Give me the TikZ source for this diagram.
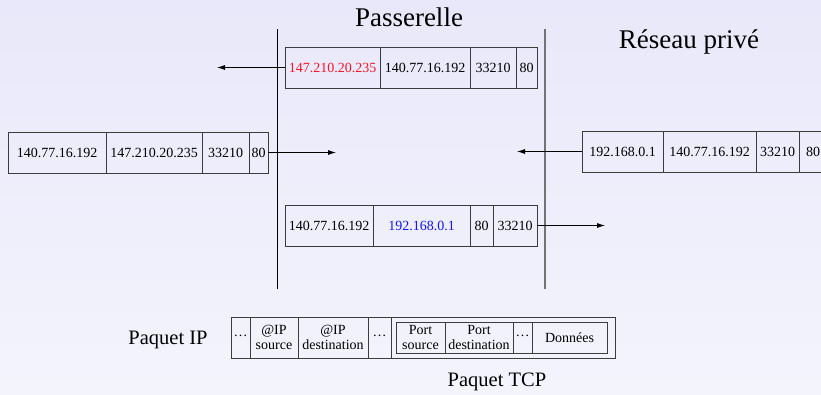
\documentclass[tikz,border=0pt]{standalone}
\usepackage{fontspec}
\setmainfont{Liberation Serif}
\usetikzlibrary{arrows.meta}
\definecolor{bgtop}{RGB}{232,232,250}
\definecolor{bgbot}{RGB}{244,244,253}
\definecolor{boxc}{RGB}{60,60,60}
\definecolor{ipred}{RGB}{250,20,40}
\definecolor{ipblue}{RGB}{20,20,245}
\newcommand\moredots{\raisebox{3pt}{…}}
\tikzset{
  cell/.style={draw=boxc, line width=0.8pt, inner sep=0pt, outer sep=0pt,
    minimum height=41pt, align=center, font=\fontsize{14}{15}\selectfont},
  smallcell/.style={cell, minimum height=31pt},
  arr/.style={line width=0.8pt, -{Latex[length=8pt,width=5pt]}},
  title/.style={font=\fontsize{27}{30}\selectfont, inner sep=0pt},
  caption/.style={font=\fontsize{20.5}{23}\selectfont, inner sep=0pt},
}
\begin{document}
\begin{tikzpicture}[x=1pt, y=-1pt]
  \useasboundingbox (0,0) rectangle (821,394);
  \shade[top color=bgtop, bottom color=bgbot] (0,0) rectangle (821,394);
  \clip (0,0) rectangle (821,394);

  % headings
  \node[title] (pass) at (409,17) {Passerelle};
  \node[title] (prive) at (689,42) {Réseau privé};

  % boundaries of the gateway
  \coordinate (g1top) at (277,29);
  \coordinate (g1bot) at (277,289);
  \coordinate (g2top) at (545,29);
  \coordinate (g2bot) at (545,289);
  \draw[line width=1pt, black] (g1top) -- (g1bot);
  \draw[line width=1.2pt, black!55] (g2top) -- (g2bot);

  % outgoing packet after translation
  \node[cell, minimum width=95pt, text=ipred] (t1) at (332.5,67.5) {147.210.20.235};
  \node[cell, minimum width=90pt] (t2) at (425,67.5) {140.77.16.192};
  \node[cell, minimum width=46pt] (t3) at (493,67.5) {33210};
  \node[cell, minimum width=21pt] (t4) at (526.5,67.5) {80};
  \coordinate (tend) at (217,67.5);
  \draw[arr] (t1.west) -- (tend);

  % incoming reply from outside
  \node[cell, minimum width=98pt] (l1) at (57,152.5) {140.77.16.192};
  \node[cell, minimum width=96pt] (l2) at (154,152.5) {147.210.20.235};
  \node[cell, minimum width=47pt] (l3) at (225.5,152.5) {33210};
  \node[cell, minimum width=19pt] (l4) at (258.5,152.5) {80};
  \coordinate (lend) at (336,152.5);
  \draw[arr] (l4.east) -- (lend);

  % packet leaving the private network
  \node[cell, minimum width=81pt] (r1) at (622.5,151.5) {192.168.0.1};
  \node[cell, minimum width=93pt] (r2) at (709.5,151.5) {140.77.16.192};
  \node[cell, minimum width=43pt] (r3) at (777.5,151.5) {33210};
  \node[cell, minimum width=28pt] (r4) at (813,151.5) {80};
  \coordinate (rend) at (517,151.5);
  \draw[arr] (r1.west) -- (rend);

  % reply forwarded into the private network
  \node[cell, minimum width=88pt] (b1) at (329,225.5) {140.77.16.192};
  \node[cell, minimum width=97pt, text=ipblue] (b2) at (421.5,225.5) {192.168.0.1};
  \node[cell, minimum width=23pt] (b3) at (481.5,225.5) {80};
  \node[cell, minimum width=44pt] (b4) at (515,225.5) {33210};
  \coordinate (bend) at (605,225.5);
  \draw[arr] (b4.east) -- (bend);

  % IP packet layout
  \node[caption] (ipcap) at (168,340) {Paquet IP};
  \node[cell, minimum width=19pt] (p1) at (240.5,337.5) {\moredots};
  \node[cell, minimum width=48pt] (p2) at (274,337.5) {@IP\\source};
  \node[cell, minimum width=70pt] (p3) at (333,337.5) {@IP\\destination};
  \node[cell, minimum width=23pt] (p4) at (379.5,337.5) {\moredots};
  \node[cell, minimum width=224pt] (p5) at (503,337.5) {};

  % TCP segment carried inside
  \node[smallcell, minimum width=49pt] (q1) at (420.5,337.5) {Port\\source};
  \node[smallcell, minimum width=68pt] (q2) at (479,337.5) {Port\\destination};
  \node[smallcell, minimum width=19pt] (q3) at (522.5,337.5) {\moredots};
  \node[smallcell, minimum width=75pt] (q4) at (569.5,337.5) {Données};
  \node[caption] (tcpcap) at (497,382) {Paquet TCP};
\end{tikzpicture}
\end{document}
